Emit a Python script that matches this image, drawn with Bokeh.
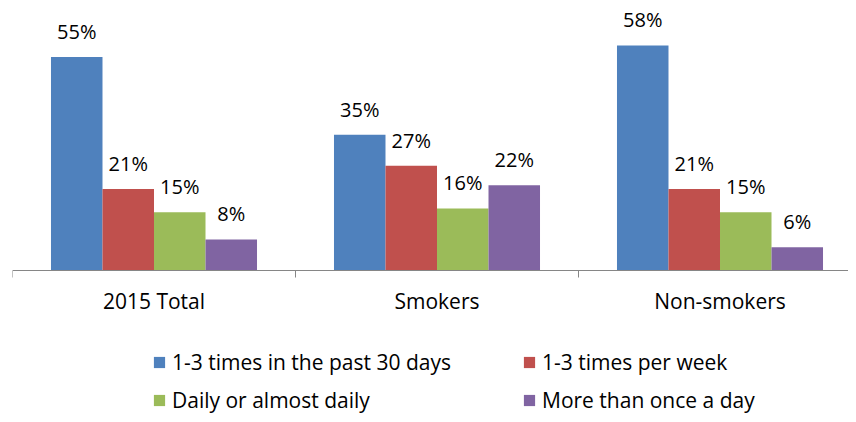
from bokeh.plotting import figure
from bokeh.models import (ColumnDataSource, Range1d, FixedTicker, Legend,
                          LegendItem, LinearAxis)
from bokeh.transform import dodge
from bokeh.core.properties import value
from bokeh.embed import file_html
from bokeh.resources import INLINE

categories = ["2015 Total", "Smokers", "Non-smokers"]
series_names = ["1-3 times in the past 30 days", "1-3 times per week",
                "Daily or almost daily", "More than once a day"]
past30 = [55, 35, 58]
per_week = [21, 27, 21]
daily = [15, 16, 15]
more_than_once = [8, 22, 6]
colors = ["#4F81BD", "#C0504D", "#9BBB59", "#8064A2"]

FONT = "Open Sans"
PX_PER_CAT = 283.0   # pixels per category
PX_PER_PCT = 3.88    # pixels per percent
W, H = 848, 414
LEFT = 12
ZERO_Y = 270         # pixel row of the baseline
frame_w = W - LEFT

p = figure(width=W, height=H, output_backend="svg", toolbar_location=None,
           x_range=Range1d(0, frame_w / PX_PER_CAT),
           y_range=Range1d(-(H - ZERO_Y) / PX_PER_PCT, ZERO_Y / PX_PER_PCT),
           x_axis_location=None, y_axis_location=None,
           min_border_left=LEFT, min_border_right=0, min_border_top=0,
           min_border_bottom=0)
p.outline_line_color = None
p.xgrid.visible = False
p.ygrid.visible = False
p.background_fill_color = "white"
p.border_fill_color = "white"

centers = [i + 0.5 for i in range(len(categories))]
all_series = [past30, per_week, daily, more_than_once]
bar_w = 0.182
offsets = [-1.5 * bar_w, -0.5 * bar_w, 0.5 * bar_w, 1.5 * bar_w]

renderers = []
for vals, col, off in zip(all_series, colors, offsets):
    src = ColumnDataSource(dict(x=centers, top=vals,
                                lab=[f"{v}%" for v in vals]))
    r = p.vbar(x=dodge("x", off), top="top", bottom=0, width=bar_w,
               source=src, fill_color=col, line_color=None)
    renderers.append(r)
    p.text(x=dodge("x", off), y="top", text="lab", source=src,
           text_align="center", text_baseline="bottom", y_offset=-12,
           text_font=value(FONT), text_font_size="20px", text_color="#000000")

ax = LinearAxis(fixed_location=0)
ax.ticker = FixedTicker(ticks=centers, minor_ticks=[0, 1, 2, 3])
ax.major_label_overrides = {c: n for c, n in zip(centers, categories)}
ax.major_tick_out = 0
ax.major_tick_in = 0
ax.minor_tick_out = 7
ax.minor_tick_in = 0
ax.minor_tick_line_color = "#868686"
ax.axis_line_color = "#868686"
ax.major_label_standoff = 9
ax.major_label_text_font = FONT
ax.major_label_text_font_size = "21px"
ax.major_label_text_color = "#000000"
p.add_layout(ax, "below")

def make_legend(items, x, y):
    lg = Legend(items=items, location=(x, y), orientation="vertical",
                glyph_width=14, glyph_height=14, label_standoff=6,
                label_height=20, spacing=10, padding=0, margin=0,
                border_line_alpha=0, background_fill_alpha=0,
                label_text_font=FONT, label_text_font_size="21px",
                label_text_color="#000000")
    p.add_layout(lg, "center")

make_legend([LegendItem(label=series_names[0], renderers=[renderers[0]]),
             LegendItem(label=series_names[2], renderers=[renderers[2]])], 140, 0)
make_legend([LegendItem(label=series_names[1], renderers=[renderers[1]]),
             LegendItem(label=series_names[3], renderers=[renderers[3]])], 510, 0)

open("out.html", "w").write(file_html(p, INLINE))
